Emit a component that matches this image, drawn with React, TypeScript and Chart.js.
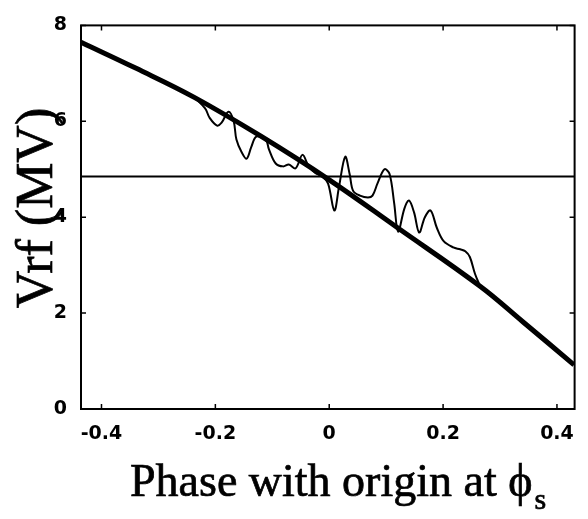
import React, { useEffect, useRef } from "react";
import { Chart, registerables } from "chart.js";

Chart.register(...registerables);

// Axis ranges and ticks
const X_MIN = -0.436;
const X_MAX = 0.431;
const Y_MIN = 0;
const Y_MAX = 8;
const xTickValues = [-0.4, -0.2, 0, 0.2, 0.4];
const xTickLabels = ["-0.4", "-0.2", "0", "0.2", "0.4"];
const yTickValues = [0, 2, 4, 6, 8];

// Smooth RF voltage curve
const thickPhase = [-0.436, -0.34, -0.237, -0.12, 0, 0.12, 0.265, 0.34, 0.43];
const thickVrf = [7.65, 7.11, 6.5, 5.69, 4.78, 3.78, 2.56, 1.82, 0.92];

// Measured (oscillating) voltage
const thinPhase = [
  -0.237, -0.218, -0.21, -0.197, -0.189, -0.177, -0.168, -0.163, -0.154, -0.145,
  -0.137, -0.128, -0.111, -0.106, -0.094, -0.081, -0.071, -0.059, -0.047, -0.036,
  -0.024, -0.012, -0.002, 0.009, 0.017, 0.028, 0.036, 0.042, 0.054, 0.068,
  0.076, 0.085, 0.097, 0.106, 0.114, 0.121, 0.132, 0.14, 0.149, 0.158,
  0.168, 0.178, 0.189, 0.201, 0.218, 0.23, 0.239, 0.247, 0.256, 0.265,
];
const thinVrf = [
  6.5, 6.27, 6.07, 5.91, 5.97, 6.2, 6.01, 5.62, 5.36, 5.22,
  5.46, 5.68, 5.6, 5.42, 5.12, 5.06, 5.1, 5.02, 5.3, 5.06,
  4.92, 4.85, 4.7, 4.14, 4.62, 5.26, 4.89, 4.55, 4.45, 4.41,
  4.45, 4.71, 5.0, 4.9, 4.3, 3.7, 4.18, 4.35, 4.1, 3.68,
  4.0, 4.14, 3.78, 3.5, 3.37, 3.33, 3.29, 3.17, 2.82, 2.56,
];

// Horizontal reference level
const refLevel = 4.85;

const SERIF = '"Liberation Serif", "Times New Roman", serif';
const SANS = '"DejaVu Sans", Arial, sans-serif';

// Fill plus a thin outline to give the heavy printed look
function heavyText(ctx: CanvasRenderingContext2D, text: string, x: number, y: number) {
  ctx.fillText(text, x, y);
  ctx.strokeText(text, x, y);
}

// Frame, inward tick marks and axis titles
const framePlugin = {
  id: "frame",
  afterDraw(chart: any) {
    const { ctx, chartArea } = chart;
    const { left, right, top, bottom } = chartArea;
    const xs = chart.scales.x;
    const ys = chart.scales.y;
    ctx.save();
    ctx.strokeStyle = "#000";
    ctx.lineWidth = 2;
    ctx.strokeRect(left, top, right - left, bottom - top);
    ctx.lineWidth = 1.5;
    const len = 5;
    ctx.beginPath();
    for (const v of xTickValues) {
      const px = xs.getPixelForValue(v);
      ctx.moveTo(px, bottom);
      ctx.lineTo(px, bottom - len);
      ctx.moveTo(px, top);
      ctx.lineTo(px, top + len);
    }
    for (const v of yTickValues) {
      const py = ys.getPixelForValue(v);
      ctx.moveTo(left, py);
      ctx.lineTo(left + len, py);
      ctx.moveTo(right, py);
      ctx.lineTo(right - len, py);
    }
    ctx.stroke();

    ctx.fillStyle = "#000";
    ctx.lineWidth = 0.7;

    // y-axis title
    ctx.save();
    ctx.translate(52, 208);
    ctx.rotate(-Math.PI / 2);
    ctx.font = `52px ${SERIF}`;
    ctx.textAlign = "center";
    ctx.textBaseline = "alphabetic";
    heavyText(ctx, "Vrf (MV)", 0, 0);
    ctx.restore();

    // x-axis title with subscript
    ctx.font = `46px ${SERIF}`;
    ctx.textAlign = "left";
    ctx.textBaseline = "alphabetic";
    const main = "Phase with origin at ";
    const x0 = 130;
    const base = 496;
    heavyText(ctx, main, x0, base);
    const w = ctx.measureText(main).width;
    heavyText(ctx, "\u03D5", x0 + w, base);
    const wPhi = ctx.measureText("\u03D5").width;
    ctx.font = `30px ${SERIF}`;
    heavyText(ctx, "s", x0 + w + wPhi + 2, base + 13);
    ctx.restore();
  },
};

export default function App() {
  const ref = useRef<HTMLCanvasElement | null>(null);

  useEffect(() => {
    document.body.style.margin = "0";
    const canvas = ref.current;
    if (!canvas) return;
    const chart = new Chart(canvas, {
      type: "line",
      data: {
        datasets: [
          {
            label: "level",
            data: [
              { x: X_MIN, y: refLevel },
              { x: X_MAX, y: refLevel },
            ],
            borderColor: "#000",
            borderWidth: 2,
            pointRadius: 0,
            tension: 0,
          },
          {
            label: "measured",
            data: thinPhase.map((x, i) => ({ x, y: thinVrf[i] })),
            borderColor: "#000",
            borderWidth: 2,
            pointRadius: 0,
            tension: 0.35,
          },
          {
            label: "Vrf",
            data: thickPhase.map((x, i) => ({ x, y: thickVrf[i] })),
            borderColor: "#000",
            borderWidth: 5,
            pointRadius: 0,
            tension: 0.4,
          },
        ],
      },
      options: {
        animation: false,
        responsive: false,
        maintainAspectRatio: false,
        layout: { padding: { top: 15, right: 6, left: 0, bottom: 0 } },
        plugins: {
          legend: { display: false },
          tooltip: { enabled: false },
          title: { display: false },
        },
        scales: {
          x: {
            type: "linear",
            min: X_MIN,
            max: X_MAX,
            border: { display: false },
            grid: { display: false, drawTicks: false },
            afterBuildTicks: (s: any) => {
              s.ticks = xTickValues.map((v) => ({ value: v }));
            },
            afterFit: (s: any) => {
              s.height = 110;
            },
            ticks: {
              padding: 14,
              color: "#000",
              font: { family: SANS, size: 19, weight: "bold" },
              maxRotation: 0,
              autoSkip: false,
              callback: (v: any) => {
                const i = xTickValues.findIndex((t) => Math.abs(t - v) < 1e-9);
                return i >= 0 ? xTickLabels[i] : "";
              },
            },
          },
          y: {
            type: "linear",
            min: Y_MIN,
            max: Y_MAX,
            border: { display: false },
            grid: { display: false, drawTicks: false },
            afterBuildTicks: (s: any) => {
              s.ticks = yTickValues.map((v) => ({ value: v }));
            },
            afterFit: (s: any) => {
              s.width = 81;
            },
            ticks: {
              padding: 14,
              color: "#000",
              font: { family: SANS, size: 19, weight: "bold" },
              callback: (v: any) => String(v),
            },
          },
        },
      },
      plugins: [framePlugin],
    });
    return () => chart.destroy();
  }, []);

  return (
    <div style={{ width: 588, height: 519, background: "#fff" }}>
      <canvas ref={ref} width={588} height={519} style={{ display: "block" }} />
    </div>
  );
}
